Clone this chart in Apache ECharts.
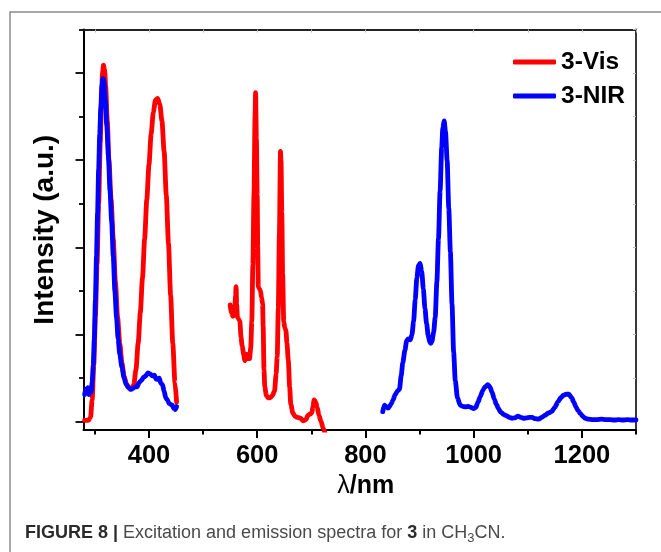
<!DOCTYPE html>
<html>
<head>
<meta charset="utf-8">
<script src="https://cdn.jsdelivr.net/npm/echarts@6/dist/echarts.min.js"></script>
<style>
  html, body { margin: 0; padding: 0; background: #fff; }
  #chart { width: 661px; height: 552px; }
</style>
</head>
<body>
<div id="chart"></div>
<script>
// Tick positions (wavelength in nm, intensity in arbitrary units)
var xLabelTicks = [400, 600, 800, 1000, 1200];
var xMinorTicks = [300, 500, 700, 900, 1100, 1300];
var xAllTicks = [300, 400, 500, 600, 700, 800, 900, 1000, 1100, 1200, 1300];
var yMajorTicks = [0, 2, 4, 6, 8];
var yMinorTicks = [1, 3, 5, 7, 9];
var yAllTicks = [0, 1, 2, 3, 4, 5, 6, 7, 8, 9];

// 3-Vis excitation spectrum
var visExWl = [281, 288, 292, 295, 298, 301, 304, 307, 310, 312, 314, 316, 318, 320, 323, 326, 330, 334, 338, 342, 346, 350, 354, 358, 363, 368, 372, 376, 380, 384, 388, 392, 396, 400, 404, 408, 412, 416, 420, 424, 428, 432, 436, 440, 444, 448, 451];
var visExI = [0.03, 0.03, 0.1, 0.5, 1.3, 2.4, 3.6, 5.0, 6.4, 7.3, 8.0, 8.18, 8.08, 7.7, 6.9, 6.0, 5.1, 4.2, 3.2, 2.4, 1.8, 1.35, 1.05, 0.88, 0.78, 0.76, 0.85, 1.2, 1.8, 2.5, 3.3, 4.2, 5.1, 5.9, 6.6, 7.1, 7.38, 7.42, 7.28, 6.9, 6.2, 5.2, 4.1, 2.9, 1.8, 0.9, 0.45];

// 3-Vis emission spectrum
var visEmWl = [550, 552, 555, 558, 560, 561, 562, 563.5, 566, 568, 570, 572, 575, 577, 580, 583, 586, 588, 590, 592, 594, 596, 597, 598.5, 600, 601, 602, 604, 606, 608, 610, 611, 612.5, 614, 617, 620, 624, 628, 632, 635, 637, 639, 641, 643, 644, 645.5, 647, 649, 651, 653, 655, 657.5, 660, 662, 666, 670, 675, 680, 685, 690, 694, 698, 701, 703, 705, 707, 709, 711, 714, 718, 722, 726];
var visEmI = [2.68, 2.5, 2.42, 2.45, 2.9, 3.1, 2.7, 2.4, 2.35, 2.3, 1.95, 1.75, 1.55, 1.4, 1.55, 1.45, 1.45, 1.7, 2.3, 3.6, 5.2, 7.0, 7.55, 6.5, 5.2, 4.0, 3.1, 3.05, 3.0, 2.85, 2.7, 2.2, 1.2, 0.8, 0.6, 0.55, 0.55, 0.6, 0.7, 1.1, 1.5, 2.6, 4.3, 6.2, 6.0, 4.8, 3.4, 2.3, 2.15, 2.1, 1.8, 1.4, 0.8, 0.4, 0.2, 0.12, 0.1, 0.08, 0.02, 0.05, 0.15, 0.18, 0.2, 0.35, 0.5, 0.48, 0.42, 0.32, 0.15, 0.0, -0.15, -0.3];

// 3-NIR excitation spectrum
var nirExWl = [281, 283, 285, 287, 289, 291, 293, 295, 297, 299, 301, 303, 305, 307, 309, 311, 313, 315, 317, 319, 322, 325, 328, 331, 334, 337, 340, 343, 346, 350, 354, 358, 362, 366, 370, 374, 378, 382, 386, 390, 394, 398, 402, 406, 410, 413, 416, 419, 422, 425, 428, 431, 434, 437, 440, 443, 446, 449, 451];
var nirExI = [0.62, 0.75, 0.7, 0.78, 0.62, 0.7, 0.68, 0.9, 1.3, 1.9, 2.8, 3.8, 4.8, 5.8, 6.6, 7.2, 7.7, 7.88, 7.8, 7.4, 6.8, 6.1, 5.3, 4.6, 3.8, 3.0, 2.4, 1.9, 1.55, 1.25, 1.0, 0.85, 0.78, 0.74, 0.76, 0.8, 0.8, 0.9, 0.95, 1.02, 1.05, 1.12, 1.1, 1.05, 1.07, 0.98, 0.97, 1.0, 0.88, 0.85, 0.7, 0.55, 0.5, 0.42, 0.4, 0.38, 0.3, 0.28, 0.35];

// 3-NIR emission spectrum
var nirEmWl = [832, 835, 838, 842, 845, 848, 851, 855, 859, 863, 866, 869, 873, 876, 879, 883, 886, 889, 892, 895, 898, 901, 904, 907, 910, 913, 916, 919, 921, 923, 926, 929, 932, 935, 938, 941, 943, 945.5, 948, 951, 954, 957, 960, 963, 966, 970, 975, 980, 985, 990, 995, 1000, 1004, 1008, 1012, 1017, 1021, 1026, 1030, 1034, 1038, 1042, 1046, 1050, 1055, 1060, 1066, 1071, 1076, 1082, 1087, 1092, 1098, 1103, 1108, 1114, 1120, 1126, 1132, 1138, 1144, 1150, 1156, 1161, 1166, 1171, 1176, 1181, 1185, 1189, 1193, 1197, 1202, 1206, 1212, 1220, 1228, 1236, 1244, 1252, 1260, 1268, 1276, 1284, 1292, 1300];
var nirEmI = [0.23, 0.38, 0.35, 0.31, 0.36, 0.42, 0.5, 0.62, 0.7, 0.75, 1.05, 1.35, 1.64, 1.85, 1.9, 1.88, 2.0, 2.3, 2.8, 3.3, 3.58, 3.63, 3.45, 3.05, 2.6, 2.25, 1.98, 1.82, 1.8, 1.85, 2.05, 2.4, 3.2, 4.2, 5.3, 6.3, 6.75, 6.9, 6.65, 6.0, 4.9, 3.9, 2.7, 1.6, 0.95, 0.55, 0.38, 0.35, 0.34, 0.35, 0.33, 0.3, 0.33, 0.45, 0.57, 0.72, 0.8, 0.85, 0.8, 0.68, 0.52, 0.4, 0.3, 0.22, 0.17, 0.14, 0.1, 0.08, 0.09, 0.13, 0.1, 0.08, 0.09, 0.1, 0.1, 0.07, 0.06, 0.1, 0.15, 0.2, 0.23, 0.33, 0.46, 0.55, 0.61, 0.63, 0.63, 0.55, 0.45, 0.34, 0.25, 0.19, 0.12, 0.08, 0.06, 0.05, 0.05, 0.06, 0.05, 0.05, 0.04, 0.05, 0.04, 0.05, 0.04, 0.04];

function pairs(xs, ys) {
  return xs.map(function (x, i) { return [x, ys[i]]; });
}

var FONT = "'Liberation Sans', Arial, Helvetica, sans-serif";
var RED = '#ff0000';
var BLUE = '#0000ff';
var X_MIN = 279, X_MAX = 1300;
var Y_MIN = -0.19, Y_MAX = 9.0;

function spectrum(name, color, wl, inten) {
  return {
    name: name,
    type: 'line',
    data: pairs(wl, inten),
    showSymbol: false,
    symbol: 'none',
    smooth: 0.25,
    smoothMonotone: 'x',
    clip: true,
    animation: false,
    itemStyle: { color: color },
    lineStyle: { color: color, width: 4.8, cap: 'round', join: 'round' }
  };
}

var chart = echarts.init(document.getElementById('chart'), null, { renderer: 'canvas' });

chart.setOption({
  animation: false,
  backgroundColor: '#ffffff',
  grid: { left: 83.5, top: 29.5, width: 552.5, height: 400.5, outerBoundsMode: 'none', containLabel: false },
  legend: {
    orient: 'vertical',
    left: 513,
    top: 47,
    padding: 0,
    itemGap: 4,
    itemWidth: 43,
    itemHeight: 5,
    itemTextGap: 4,
    icon: 'roundRect',
    data: ['3-Vis', '3-NIR'],
    textStyle: { fontFamily: FONT, fontSize: 24.5, fontWeight: 'bold', color: '#000', lineHeight: 30 }
  },
  xAxis: [
    {
      type: 'value', min: X_MIN, max: X_MAX, position: 'bottom',
      axisLine: { show: true, onZero: false, lineStyle: { color: '#000', width: 2 } },
      axisTick: { show: true, customValues: xLabelTicks, length: 8, lineStyle: { color: '#000', width: 2 } },
      axisLabel: {
        show: true, customValues: xLabelTicks, margin: 13, fontFamily: FONT, fontSize: 25.5, fontWeight: 'bold', color: '#000',
        formatter: function (v) { return String(v); }
      },
      splitLine: { show: false },
      name: '{l|λ}/nm',
      nameLocation: 'middle',
      nameGap: 40,
      nameTextStyle: {
        fontFamily: FONT, fontSize: 25, fontWeight: 'bold', color: '#000', padding: [0, 0, 0, 12],
        rich: { l: { fontFamily: FONT, fontSize: 25, fontWeight: 'normal', color: '#000' } }
      }
    },
    {
      type: 'value', min: X_MIN, max: X_MAX, position: 'bottom',
      axisLine: { show: false, onZero: false },
      axisTick: { show: true, customValues: xMinorTicks, length: 4.5, lineStyle: { color: '#000', width: 2 } },
      axisLabel: { show: false },
      splitLine: { show: false }
    },
    {
      type: 'value', min: X_MIN, max: X_MAX, position: 'top',
      axisLine: { show: true, onZero: false, lineStyle: { color: '#222', width: 1.8 } },
      axisTick: { show: true, inside: true, customValues: xAllTicks, length: 3, lineStyle: { color: '#b8b8b8', width: 1 } },
      axisLabel: { show: false },
      splitLine: { show: false }
    }
  ],
  yAxis: [
    {
      type: 'value', min: Y_MIN, max: Y_MAX, position: 'left',
      axisLine: { show: true, onZero: false, lineStyle: { color: '#000', width: 2 } },
      axisTick: { show: true, customValues: yMajorTicks, length: 8, lineStyle: { color: '#000', width: 1.8 } },
      axisLabel: { show: false },
      splitLine: { show: false },
      name: 'Intensity (a.u.)',
      nameLocation: 'middle',
      nameGap: 24,
      nameTextStyle: { fontFamily: FONT, fontSize: 28, fontWeight: 'bold', color: '#000' }
    },
    {
      type: 'value', min: Y_MIN, max: Y_MAX, position: 'left',
      axisLine: { show: false, onZero: false },
      axisTick: { show: true, customValues: yMinorTicks, length: 4.5, lineStyle: { color: '#000', width: 1.8 } },
      axisLabel: { show: false },
      splitLine: { show: false }
    },
    {
      type: 'value', min: Y_MIN, max: Y_MAX, position: 'right',
      axisLine: { show: true, onZero: false, lineStyle: { color: '#222', width: 1.8 } },
      axisTick: { show: true, inside: true, customValues: yAllTicks, length: 3, lineStyle: { color: '#b8b8b8', width: 1 } },
      axisLabel: { show: false },
      splitLine: { show: false }
    }
  ],
  series: [
    spectrum('3-Vis', RED, visExWl, visExI),
    spectrum('3-Vis', RED, visEmWl, visEmI),
    spectrum('3-NIR', BLUE, nirExWl, nirExI),
    spectrum('3-NIR', BLUE, nirEmWl, nirEmI)
  ],
  graphic: [
    {
      // figure frame
      type: 'rect',
      silent: true,
      shape: { x: 10, y: 12, width: 700, height: 600 },
      style: { fill: 'none', stroke: '#8c8c8c', lineWidth: 1.5 }
    },
    {
      type: 'text',
      silent: true,
      style: {
        x: 25,
        y: 533,
        verticalAlign: 'middle',
        text: '{b|FIGURE 8 |} Excitation and emission spectra for {b3|3} in CH{sub|3}CN.',
        fontFamily: FONT,
        fontSize: 18,
        lineHeight: 24,
        fill: '#4a4a4a',
        rich: {
          b: { fontFamily: FONT, fontSize: 18, fontWeight: 'bold', fill: '#2a2a2a', lineHeight: 24 },
          b3: { fontFamily: FONT, fontSize: 18, fontWeight: 'bold', fill: '#2a2a2a', lineHeight: 24 },
          sub: { fontFamily: FONT, fontSize: 13, fill: '#4a4a4a', verticalAlign: 'bottom', lineHeight: 13 }
        }
      }
    }
  ]
});
</script>
</body>
</html>
